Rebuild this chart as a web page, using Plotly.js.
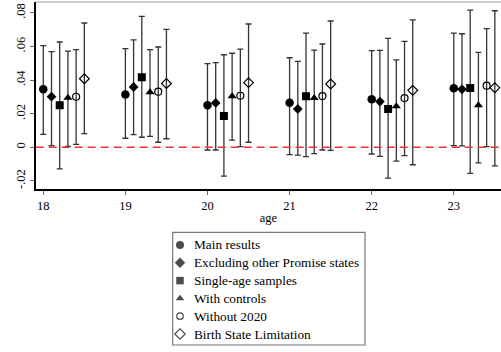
<!DOCTYPE html>
<html><head><meta charset="utf-8">
<script src="https://cdn.plot.ly/plotly-3.0.1.min.js"></script>
<style>html,body{margin:0;padding:0;background:#fff}#chart{width:501px;height:352px}</style>
</head><body><div id="chart"></div>
<script>
const ages = [18, 19, 20, 21, 22, 23];
const seriesNames = ["Main results", "Excluding other Promise states", "Single-age samples", "With controls", "Without 2020", "Birth State Limitation"];
const offsets = [0, 0.1, 0.2, 0.3, 0.4, 0.5];
const mainPt = [0.0345, 0.0315, 0.0250, 0.0265, 0.0286, 0.0351];
const mainHi = [0.0605, 0.0587, 0.0498, 0.0533, 0.0575, 0.0680];
const mainLo = [0.0077, 0.0054, -0.0016, -0.0044, -0.0040, 0.0010];
const exclPt = [0.0301, 0.0359, 0.0264, 0.0228, 0.0272, 0.0345];
const exclHi = [0.0569, 0.0640, 0.0504, 0.0512, 0.0577, 0.0676];
const exclLo = [0.0010, 0.0075, -0.0016, -0.0046, -0.0054, 0.0008];
const singlePt = [0.0250, 0.0417, 0.0186, 0.0304, 0.0228, 0.0353];
const singleHi = [0.0627, 0.0780, 0.0551, 0.0680, 0.0649, 0.0817];
const singleLo = [-0.0129, 0.0060, -0.0171, -0.0056, -0.0183, -0.0155];
const ctrlPt = [0.0295, 0.0327, 0.0304, 0.0293, 0.0244, 0.0250];
const ctrlHi = [0.0573, 0.0581, 0.0560, 0.0579, 0.0521, 0.0565];
const ctrlLo = [0.0006, 0.0065, 0.0043, -0.0038, -0.0082, -0.0093];
const no2020Pt = [0.0301, 0.0331, 0.0307, 0.0305, 0.0293, 0.0367];
const no2020Hi = [0.0581, 0.0597, 0.0585, 0.0615, 0.0631, 0.0706];
const no2020Lo = [0.0018, 0.0030, 0.0004, -0.0016, -0.0050, 0.0004];
const birthPt = [0.0408, 0.0380, 0.0385, 0.0377, 0.0339, 0.0355];
const birthHi = [0.0740, 0.0702, 0.0734, 0.0752, 0.0758, 0.0813];
const birthLo = [0.0081, 0.0051, 0.0030, -0.0018, -0.0104, -0.0111];
const yTickVals = [-0.02, 0, 0.02, 0.04, 0.06, 0.08];
const yTickText = ["-.02", "0", ".02", ".04", ".06", ".08"];

const W = 501, H = 352;
const FONT = 'Liberation Serif';
const pts = [mainPt, exclPt, singlePt, ctrlPt, no2020Pt, birthPt];
const his = [mainHi, exclHi, singleHi, ctrlHi, no2020Hi, birthHi];
const los = [mainLo, exclLo, singleLo, ctrlLo, no2020Lo, birthLo];
const symbols = ["circle", "diamond", "square", "triangle-up", "circle-open", "diamond-open"];
const sizes = [8.5, 7.5, 8, 8, 7, 7.5];
const legSizes = [8, 8, 7.5, 7.5, 6.5, 8];

const traces = seriesNames.map((name, i) => ({
  type: 'scatter', mode: 'markers', name: name, showlegend: false,
  x: ages.map(a => a + offsets[i]),
  y: pts[i],
  error_y: {type: 'data', symmetric: false,
    array: his[i].map((h, j) => h - pts[i][j]),
    arrayminus: pts[i].map((p, j) => p - los[i][j]),
    color: '#333', thickness: 1.3, width: 3},
  marker: {symbol: symbols[i], size: sizes[i], color: '#000',
    line: {color: '#000', width: (i >= 4 ? 1.2 : 0)}}
}));

// manual legend in its own small frame (pixel-like coordinates)
const legBox = {x0: 172.7, x1: 365, y0: 232.3, y1: 345};
const legRowStart = 12.7, legRowStep = 17.8;
const legY = seriesNames.map((_, i) => legRowStart + i * legRowStep);
traces.push({
  type: 'scatter', mode: 'markers', xaxis: 'x2', yaxis: 'y2', showlegend: false,
  x: seriesNames.map(() => 7.3), y: legY, cliponaxis: false,
  marker: {symbol: symbols, size: legSizes, color: '#000',
    line: {color: '#000', width: symbols.map((s, i) => i >= 4 ? 1.2 : 0)}}
});
const legAnn = seriesNames.map((name, i) => ({
  xref: 'x2', yref: 'y2', x: 19, y: legY[i], xanchor: 'left', yanchor: 'middle',
  text: name, showarrow: false, font: {family: FONT, size: 13.3, color: '#000'}
}));

const layout = {
  width: W, height: H,
  margin: {l: 0, r: 0, t: 0, b: 0},
  paper_bgcolor: '#fff', plot_bgcolor: '#fff',
  font: {family: FONT, color: '#000', size: 12},
  showlegend: false,
  xaxis: {domain: [35.7 / W, 1], range: [17.9075, 23.575], tickvals: ages, ticktext: ages.map(String),
    showgrid: false, zeroline: false, showline: true, linecolor: '#000', linewidth: 1.5,
    ticks: 'outside', ticklen: 4, tickcolor: '#666', tickfont: {family: FONT, size: 12.5},
    title: {text: 'age', font: {family: FONT, size: 12.5}, standoff: 1}},
  yaxis: {domain: [(H - 189.3) / H, (H - 2) / H], range: [-0.025, 0.0865], tickvals: yTickVals, ticktext: yTickText, tickangle: -90,
    showgrid: false, zeroline: false, showline: true, linecolor: '#000', linewidth: 1.5,
    ticks: 'outside', ticklen: 4, tickcolor: '#666', tickfont: {family: FONT, size: 12.5}},
  xaxis2: {domain: [legBox.x0 / W, legBox.x1 / W], range: [0, legBox.x1 - legBox.x0], visible: false, fixedrange: true},
  yaxis2: {domain: [(H - legBox.y1) / H, (H - legBox.y0) / H], range: [legBox.y1 - legBox.y0, 0], visible: false, fixedrange: true},
  annotations: legAnn,
  shapes: [
    {type: 'line', xref: 'paper', yref: 'y', x0: 35.7 / W, x1: 1, y0: 0, y1: 0,
      line: {color: '#ee3333', width: 1.6, dash: '8px,5px'}, layer: 'above'},
    {type: 'line', xref: 'paper', yref: 'paper', x0: 35.7 / W, x1: 1, y0: (H - 2) / H, y1: (H - 2) / H,
      line: {color: '#999', width: 1}},
    {type: 'rect', xref: 'paper', yref: 'paper', x0: legBox.x0 / W, x1: legBox.x1 / W,
      y0: (H - legBox.y1) / H, y1: (H - legBox.y0) / H, line: {color: '#777', width: 1.2}}
  ]
};
Plotly.newPlot('chart', traces, layout, {displayModeBar: false, staticPlot: true});
</script></body></html>
